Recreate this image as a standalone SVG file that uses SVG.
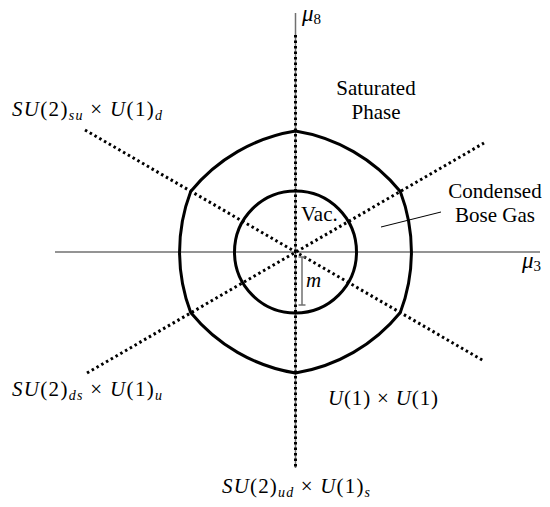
<svg xmlns="http://www.w3.org/2000/svg" width="550" height="507" viewBox="0 0 550 507">
<style>
.axis{stroke:#707070;stroke-width:1.5;fill:none}
.dot{stroke:#000;stroke-width:3;stroke-dasharray:2.5 3;fill:none}
.bound{stroke:#000;stroke-width:3;fill:none}
.lead{stroke:#000;stroke-width:1;fill:none}
text{font-family:'Liberation Serif','Times New Roman',serif;fill:#000}
.t{font-size:21px}
.m{font-size:21px}
.mu{font-size:23px;font-style:italic}
.i{font-style:italic}
.s{font-size:14px}
.ss{font-size:15px;font-style:normal}
</style>
<g id="axes">
<line class="axis" x1="55" y1="252" x2="540" y2="252"/>
<line class="axis" x1="295.5" y1="13" x2="295.5" y2="468"/>
</g>
<g id="connectors">
<line class="dot" x1="295.5" y1="35" x2="295.5" y2="468"/>
<line class="dot" x1="85" y1="130" x2="484" y2="361"/>
<line class="dot" x1="87" y1="373" x2="484" y2="143"/>
<line class="lead" x1="381" y1="227" x2="441" y2="212"/>
</g>
<g id="outer-boundary">
<path class="bound" d="M295.5,131 A170,170 0 0 1 400.3,191.5 A170,170 0 0 1 400.3,312.5 A170,170 0 0 1 295.5,373 A170,170 0 0 1 190.7,312.5 A170,170 0 0 1 190.7,191.5 A170,170 0 0 1 295.5,131 Z"/>
</g>
<g id="vacuum-circle">
<circle class="bound" cx="295.5" cy="252" r="61"/>
</g>
<g id="mass-marker">
<line class="axis" x1="302" y1="257" x2="302" y2="305"/>
<line class="axis" x1="298.5" y1="257" x2="305.5" y2="257"/>
<line class="axis" x1="298.5" y1="305" x2="305.5" y2="305"/>
<text class="m i" x="306" y="287">m</text>
</g>
<g id="labels">
<text class="mu" x="302" y="21">μ<tspan class="ss" dy="3">8</tspan></text>
<text class="mu" x="522" y="268">μ<tspan class="ss" dy="3">3</tspan></text>
<text class="t" x="301" y="221">Vac.</text>
<text class="t" x="376" y="95" text-anchor="middle">Saturated</text>
<text class="t" x="376" y="119" text-anchor="middle">Phase</text>
<text class="t" x="495" y="198" text-anchor="middle">Condensed</text>
<text class="t" x="495" y="222" text-anchor="middle">Bose Gas</text>
<text class="m" x="12" y="116" textLength="150" lengthAdjust="spacing"><tspan class="i">SU</tspan>(2)<tspan class="s i" dy="4">su</tspan><tspan dy="-4"> × </tspan><tspan class="i">U</tspan>(1)<tspan class="s i" dy="4">d</tspan></text>
<text class="m" x="12" y="396" textLength="150" lengthAdjust="spacing"><tspan class="i">SU</tspan>(2)<tspan class="s i" dy="4">ds</tspan><tspan dy="-4"> × </tspan><tspan class="i">U</tspan>(1)<tspan class="s i" dy="4">u</tspan></text>
<text class="m" x="222" y="493" textLength="148" lengthAdjust="spacing"><tspan class="i">SU</tspan>(2)<tspan class="s i" dy="4">ud</tspan><tspan dy="-4"> × </tspan><tspan class="i">U</tspan>(1)<tspan class="s i" dy="4">s</tspan></text>
<text class="m" x="328" y="405" textLength="110" lengthAdjust="spacing"><tspan class="i">U</tspan>(1) × <tspan class="i">U</tspan>(1)</text>
</g>
</svg>
